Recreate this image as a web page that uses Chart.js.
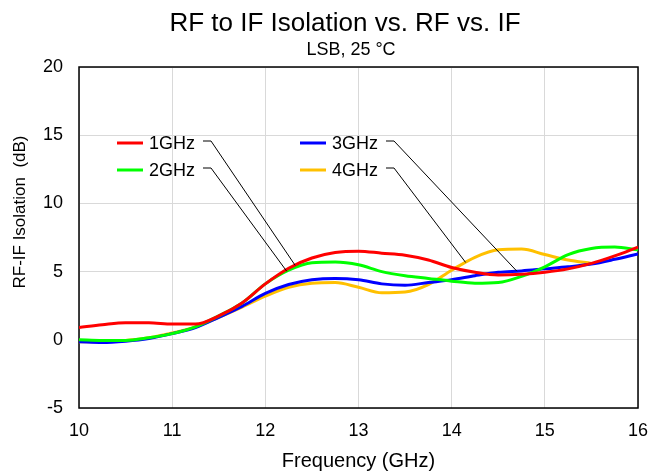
<!DOCTYPE html>
<html>
<head>
<meta charset="utf-8">
<script src="https://cdn.jsdelivr.net/npm/chart.js@4.4.1/dist/chart.umd.min.js"></script>
<style>
    html, body { margin: 0; padding: 0; background: #fff; }
    #grafica { display: block; }
</style>
</head>
<body>
<canvas id="grafica" width="651" height="473"></canvas>
<script>
// Datos (GHz / dB)
const frecuencias = [10, 10.25, 10.5, 10.75, 11, 11.25, 11.5, 11.75, 12, 12.25, 12.5, 12.75, 13,
    13.25, 13.5, 13.75, 14, 14.25, 14.5, 14.75, 15, 15.25, 15.5, 15.75, 16];

const iso1GHz = [0.9, 1.1, 1.25, 1.25, 1.15, 1.15, 1.75, 2.7, 4.1, 5.25, 6.0, 6.4, 6.5,
    6.35, 6.2, 5.85, 5.3, 4.95, 4.75, 4.8, 4.95, 5.2, 5.6, 6.15, 6.8];
const iso2GHz = [0.0, -0.05, -0.05, 0.15, 0.45, 0.95, 1.75, 2.7, 4.1, 5.1, 5.65, 5.7, 5.5,
    5.0, 4.7, 4.5, 4.3, 4.15, 4.2, 4.65, 5.35, 6.25, 6.7, 6.8, 6.6];
const iso3GHz = [-0.15, -0.2, -0.1, 0.1, 0.45, 0.9, 1.65, 2.45, 3.4, 4.05, 4.4, 4.5, 4.4,
    4.1, 4.0, 4.2, 4.4, 4.7, 4.95, 5.05, 5.2, 5.35, 5.55, 5.9, 6.3];
const iso4GHz = [-0.15, -0.15, -0.05, 0.15, 0.5, 0.95, 1.65, 2.4, 3.2, 3.85, 4.15, 4.2, 3.85,
    3.45, 3.5, 4.05, 5.1, 6.05, 6.6, 6.65, 6.25, 5.85, 5.6, null, null];

const etiquetas = ['1GHz', '2GHz', '3GHz', '4GHz'];
const colores = ['#ff0000', '#00ff00', '#0000ff', '#ffc000'];
// frecuencia donde cada línea guía toca su curva
const anclasGuia = [12.32, 12.23, 14.7, 14.15];

const ticksX = [10, 11, 12, 13, 14, 15, 16];
const ticksY = [-5, 0, 5, 10, 15, 20];

const titulo = 'RF to IF Isolation vs. RF vs. IF';
const subtitulo = 'LSB, 25 °C';
const tituloY = 'RF-IF Isolation  (dB)';
const tituloX = 'Frequency (GHz)';

const series = [iso1GHz, iso2GHz, iso3GHz, iso4GHz];
const fuente = "'Liberation Sans', Arial, sans-serif";

function valorEn(serie, f) {
    for (let i = 0; i < frecuencias.length - 1; i++) {
        if (f >= frecuencias[i] && f <= frecuencias[i + 1]) {
            const t = (f - frecuencias[i]) / (frecuencias[i + 1] - frecuencias[i]);
            return serie[i] + t * (serie[i + 1] - serie[i]);
        }
    }
    return serie[serie.length - 1];
}

// títulos (posición como en el original, algo desplazados del centro)
const titulosPlugin = {
    id: 'titulos',
    afterDraw(chart) {
        const { ctx } = chart;
        ctx.save();
        ctx.fillStyle = '#000';
        ctx.textAlign = 'center';
        ctx.textBaseline = 'alphabetic';
        ctx.font = '26px ' + fuente;
        ctx.fillText(titulo, 345, 31);
        ctx.font = '18px ' + fuente;
        ctx.fillText(subtitulo, 351, 55);

        ctx.translate(25, 212);
        ctx.rotate(-Math.PI / 2);
        ctx.font = '17px ' + fuente;
        ctx.fillText(tituloY, 0, 0);
        ctx.restore();
    }
};

// marco completo alrededor del área de trazado
const marcoPlugin = {
    id: 'marco',
    beforeDatasetsDraw(chart) {
        const { ctx, chartArea: a } = chart;
        ctx.save();
        ctx.strokeStyle = '#000';
        ctx.lineWidth = 1.5;
        ctx.strokeRect(a.left, a.top, a.right - a.left, a.bottom - a.top);
        ctx.restore();
    }
};

// leyenda dentro del gráfico con líneas guía hacia las curvas
const leyendaPlugin = {
    id: 'leyendaGuia',
    afterDatasetsDraw(chart) {
        const { ctx, chartArea: a, scales } = chart;
        ctx.save();
        ctx.font = '18px ' + fuente;
        ctx.textBaseline = 'middle';
        chart.data.datasets.forEach((ds, i) => {
            const col = Math.floor(i / 2);
            const fila = i % 2;
            const x0 = a.left + 38 + col * 183;
            const y0 = a.top + 76 + fila * 27;

            ctx.strokeStyle = ds.borderColor;
            ctx.lineWidth = 3;
            ctx.beginPath();
            ctx.moveTo(x0, y0);
            ctx.lineTo(x0 + 26, y0);
            ctx.stroke();

            ctx.fillStyle = '#000';
            ctx.textAlign = 'left';
            ctx.fillText(ds.label, x0 + 32, y0 + 1);
            const xFin = x0 + 32 + ctx.measureText(ds.label).width + 8;

            const fx = anclasGuia[i];
            const px = scales.x.getPixelForValue(fx);
            const py = scales.y.getPixelForValue(valorEn(series[i], fx));

            ctx.strokeStyle = '#808080';
            ctx.lineWidth = 2;
            ctx.beginPath();
            ctx.moveTo(xFin, y0 - 2);
            ctx.lineTo(xFin + 8, y0 - 2);
            ctx.stroke();

            ctx.strokeStyle = '#000';
            ctx.lineWidth = 1;
            ctx.beginPath();
            ctx.moveTo(xFin + 8, y0 - 2);
            ctx.lineTo(px, py);
            ctx.stroke();
        });
        ctx.restore();
    }
};

const datasets = series.map((serie, i) => ({
    label: etiquetas[i],
    data: frecuencias.map((f, j) => ({ x: f, y: serie[j] })),
    borderColor: colores[i],
    backgroundColor: colores[i],
    borderWidth: 3,
    pointRadius: 0,
    cubicInterpolationMode: 'monotone',
    spanGaps: false,
    fill: false
}));

const ctx = document.getElementById('grafica').getContext('2d');
new Chart(ctx, {
    type: 'line',
    data: { datasets: datasets },
    options: {
        responsive: false,
        animation: false,
        devicePixelRatio: 1,
        layout: { padding: { left: 0, right: 13, top: 67, bottom: 0 } },
        plugins: {
            legend: { display: false },
            tooltip: { enabled: false },
            title: { display: false },
            subtitle: { display: false }
        },
        scales: {
            x: {
                type: 'linear',
                min: ticksX[0],
                max: ticksX[ticksX.length - 1],
                afterBuildTicks: (scale) => { scale.ticks = ticksX.map(v => ({ value: v })); },
                afterFit: (scale) => {
                    scale.height = 65;
                    scale.paddingLeft = 0;
                    scale.paddingRight = 0;
                },
                ticks: { color: '#000', font: { family: fuente, size: 18 }, padding: 12, maxRotation: 0 },
                grid: { color: '#d9d9d9', lineWidth: 1, drawTicks: false },
                border: { display: false },
                title: {
                    display: true,
                    text: tituloX,
                    color: '#000',
                    font: { family: fuente, size: 20 },
                    padding: { top: 0, bottom: 0 }
                }
            },
            y: {
                min: ticksY[0],
                max: ticksY[ticksY.length - 1],
                afterBuildTicks: (scale) => { scale.ticks = ticksY.map(v => ({ value: v })); },
                afterFit: (scale) => { scale.width = 79; },
                ticks: { color: '#000', font: { family: fuente, size: 18 }, padding: 16 },
                grid: { color: '#d9d9d9', lineWidth: 1, drawTicks: false },
                border: { display: false },
                title: { display: false }
            }
        }
    },
    plugins: [marcoPlugin, leyendaPlugin, titulosPlugin]
});
</script>
</body>
</html>
